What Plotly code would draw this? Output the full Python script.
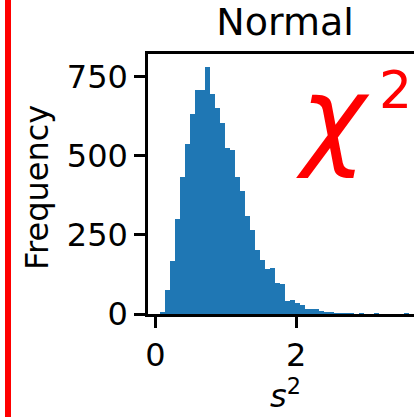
import plotly.graph_objects as go

# Histogram of sample variances s^2 (counts per bin)
BIN_START = 0.071
BIN_WIDTH = 0.0706
counts = [4, 76, 167, 301, 432, 538, 632, 707, 707, 781,
          695, 651, 604, 526, 517, 432, 388, 311, 265, 202,
          172, 141, 147, 99, 94, 40, 44, 34, 27, 16,
          16, 16, 10, 4, 4, 3, 2, 1, 1, 0,
          1, 0, 0, 1, 0, 0, 0, 0, 0, 1]
centers = [BIN_START + BIN_WIDTH * (i + 0.5) for i in range(len(counts))]

x_ticks = [0, 2]
y_ticks = [0, 250, 500, 750]
title_text = "Normal"
x_label = "<i>s</i><sup>2</sup>"
y_label = "Frequency"
note_symbol = "<i>χ</i>"
note_power = "2"

W, H = 414, 417
L, R, T, B = 148, 0, 54, 103
pw, ph = W - L - R, H - T - B

def px(x):
    return (x - L) / pw

def py(y):
    return (H - B - y) / ph

FONT = "DejaVu Sans"

fig = go.Figure()
fig.add_trace(go.Bar(x=centers, y=counts, width=BIN_WIDTH,
                     marker=dict(color="#1f77b4", line=dict(width=0)),
                     hoverinfo="skip"))

fig.update_layout(
    width=W, height=H,
    margin=dict(l=L, r=R, t=T, b=B, pad=0),
    paper_bgcolor="white", plot_bgcolor="white",
    showlegend=False, bargap=0,
    font=dict(family=FONT, color="black", size=32),
    title=dict(text=title_text, font=dict(size=38, family=FONT, color="black"),
               xref="container", yref="container",
               x=285 / W, y=1 - 21.5 / H, xanchor="center", yanchor="middle"),
    xaxis=dict(range=[-0.105, 3.674], tickvals=x_ticks, ticks="outside",
               ticklen=11, tickwidth=2.5, tickcolor="black",
               showline=True, linecolor="black", linewidth=2.5, mirror=True,
               showgrid=False, zeroline=False,
               tickfont=dict(size=32, family=FONT, color="black")),
    yaxis=dict(range=[0, 822], tickvals=y_ticks, ticks="outside",
               ticklen=11, tickwidth=2.5, tickcolor="black",
               showline=True, linecolor="black", linewidth=2.5, mirror=False,
               showgrid=False, zeroline=False,
               tickfont=dict(size=32, family=FONT, color="black")),
)

fig.add_annotation(text=x_label, xref="paper", yref="paper",
                   x=px(285), y=py(417), xanchor="center", yanchor="bottom",
                   showarrow=False, font=dict(size=32, family=FONT, color="black"))
fig.add_annotation(text=y_label, xref="paper", yref="paper", textangle=-90,
                   x=px(37), y=py(188), xanchor="center", yanchor="middle",
                   showarrow=False, font=dict(size=32, family=FONT, color="black"))
fig.add_annotation(text=note_symbol, xref="paper", yref="paper",
                   x=px(333), y=py(117), xanchor="center", yanchor="middle",
                   showarrow=False,
                   font=dict(size=110, family=FONT, color="#ff0000"))
fig.add_annotation(text=note_power, xref="paper", yref="paper",
                   x=px(414), y=py(90), xanchor="right", yanchor="middle",
                   showarrow=False,
                   font=dict(size=52, family=FONT, color="#ff0000"))

fig.add_shape(type="rect", xref="paper", yref="paper",
              x0=px(5), x1=px(11), y0=py(H), y1=py(0),
              fillcolor="#ff0000", line=dict(width=0), layer="above")

fig.write_html("out.html")
